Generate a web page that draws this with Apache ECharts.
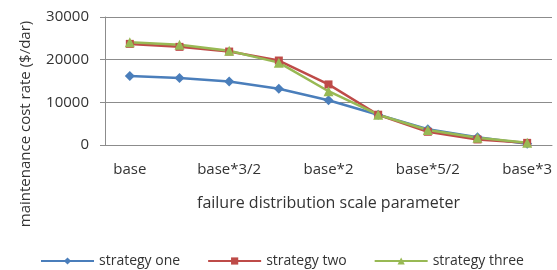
<!DOCTYPE html>
<html>
<head>
<meta charset="utf-8">
<script src="https://cdn.jsdelivr.net/npm/echarts@6/dist/echarts.min.js"></script>
<style>
  html, body { margin: 0; padding: 0; background: #fff; }
  #main { width: 557px; height: 270px; }
</style>
</head>
<body>
<div id="main"></div>
<script>
// scale parameter levels (only every second one is labelled)
var categories = ['base', 'base*5/4', 'base*3/2', 'base*7/4', 'base*2', 'base*9/4', 'base*5/2', 'base*11/4', 'base*3'];
var strategyOne = [16200, 15700, 14900, 13200, 10500, 7100, 3700, 1800, 300];
var strategyTwo = [23700, 23000, 21900, 19800, 14200, 7100, 3100, 1300, 500];
var strategyThree = [24100, 23500, 22100, 19300, 12600, 7100, 3500, 1700, 500];
var yTicks = [0, 10000, 20000, 30000];

var font = '"Open Sans", sans-serif';
var txt = '#333';
var gray = '#8c8c8c';

var chart = echarts.init(document.getElementById('main'));

function line(name, data, color, symbol, size) {
    return {
        name: name,
        type: 'line',
        data: data,
        symbol: symbol,
        symbolSize: size,
        lineStyle: { color: color, width: 2.5 },
        itemStyle: { color: color },
        emphasis: { disabled: true },
        animation: false
    };
}

chart.setOption({
    grid: { left: 105, right: 5, top: 17, bottom: 125 },
    legend: {
        top: 254,
        left: 40,
        padding: 0,
        itemWidth: 53,
        itemHeight: 9,
        itemGap: 27,
        textStyle: { fontFamily: font, fontSize: 14, color: txt },
        data: ['strategy one', 'strategy two', 'strategy three']
    },
    xAxis: {
        type: 'category',
        data: categories,
        boundaryGap: true,
        name: 'failure distribution scale parameter',
        nameLocation: 'middle',
        nameGap: 50,
        nameTextStyle: { fontFamily: font, fontSize: 16, color: txt },
        axisLine: { lineStyle: { color: gray, width: 1 } },
        axisTick: { interval: 2, length: 5, lineStyle: { color: gray } },
        axisLabel: { interval: 1, margin: 17, fontFamily: font, fontSize: 15, color: txt }
    },
    yAxis: {
        type: 'value',
        min: yTicks[0],
        max: yTicks[yTicks.length - 1],
        interval: yTicks[1] - yTicks[0],
        name: 'maintenance cost rate ($/dar)',
        nameLocation: 'middle',
        nameGap: 72,
        nameTextStyle: { fontFamily: font, fontSize: 15, color: txt, padding: [0, 86, 0, 0] },
        axisLine: { show: true, lineStyle: { color: gray, width: 1 } },
        axisTick: { show: true, length: 5, lineStyle: { color: gray } },
        axisLabel: {
            margin: 16, fontFamily: font, fontSize: 15, color: txt,
            formatter: function (v) { return String(v); }
        },
        splitLine: { lineStyle: { color: gray, width: 1 } }
    },
    series: [
        line('strategy one', strategyOne, '#4a7ebb', 'diamond', 10),
        line('strategy two', strategyTwo, '#be4b48', 'rect', 8),
        line('strategy three', strategyThree, '#98b954', 'triangle', 10)
    ]
});
</script>
</body>
</html>
